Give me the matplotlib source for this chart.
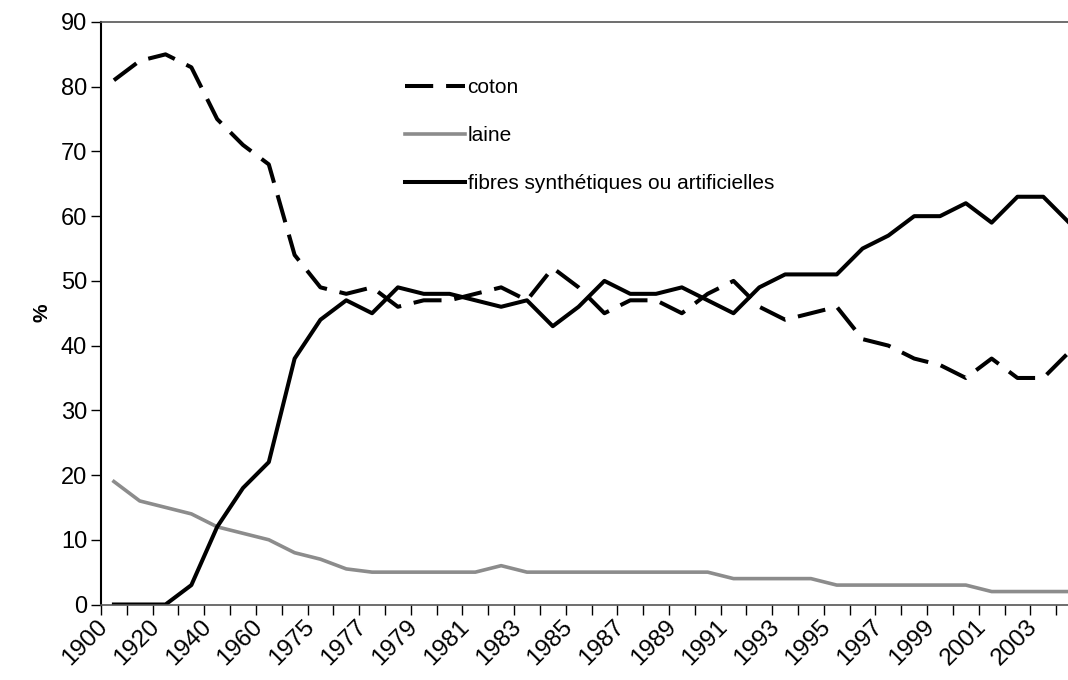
import numpy as np
import matplotlib
matplotlib.use('Agg')
import matplotlib.pyplot as plt
import matplotlib.transforms as mtransforms

plt.rcParams['font.family'] = ['Liberation Sans', 'DejaVu Sans']

# categories (x axis)
years = ['1900', '1910', '1920', '1930', '1940', '1950', '1960', '1970',
         '1975', '1976', '1977', '1978', '1979', '1980', '1981', '1982',
         '1983', '1984', '1985', '1986', '1987', '1988', '1989', '1990',
         '1991', '1992', '1993', '1994', '1995', '1996', '1997', '1998',
         '1999', '2000', '2001', '2002', '2003', '2004']

# series values (%)
coton = [81, 84, 85, 83, 75, 71, 68, 54,
         49, 48, 49, 46, 47, 47, 48, 49,
         47, 52, 49, 45, 47, 47, 45, 48,
         50, 46, 44, 45, 46, 41, 40, 38,
         37, 35, 38, 35, 35, 39]
laine = [19, 16, 15, 14, 12, 11, 10, 8,
         7, 5.5, 5, 5, 5, 5, 5, 6,
         5, 5, 5, 5, 5, 5, 5, 5,
         4, 4, 4, 4, 3, 3, 3, 3,
         3, 3, 2, 2, 2, 2]
fibres = [0, 0, 0, 3, 12, 18, 22, 38,
          44, 47, 45, 49, 48, 48, 47, 46,
          47, 43, 46, 50, 48, 48, 49, 47,
          45, 49, 51, 51, 51, 55, 57, 60,
          60, 62, 59, 63, 63, 59]

labels = ['coton', 'laine', 'fibres synthétiques ou artificielles']

W, H = 1068, 680
fig = plt.figure(figsize=(W / 100, H / 100), dpi=100)
# plot area runs past the right edge of the picture (chart was cropped)
left, right, top, bottom = 101, 1082, 22, 604.5
ax = fig.add_axes([left / W, 1 - bottom / H, (right - left) / W, (bottom - top) / H])

x = np.arange(len(years))
ax.plot(x, coton, color='black', lw=2.9, linestyle=(0, (7, 3.2)),
        dash_capstyle='butt', label=labels[0])
ax.plot(x, laine, color='#8c8c8c', lw=2.6, label=labels[1])
ax.plot(x, fibres, color='black', lw=2.9, label=labels[2])

ax.set_xlim(-0.5, len(years) - 0.5)
ax.set_ylim(0, 90)
ax.set_yticks(np.arange(0, 91, 10))

# ticks between categories, labels on every other category
ax.set_xticks(np.arange(-0.5, len(years), 1), minor=True)
ax.set_xticks(x[::2])
ax.set_xticklabels(years[::2], rotation=45, ha='right', va='top',
                   rotation_mode='anchor')
ax.tick_params(axis='x', which='major', length=0, pad=8, labelsize=17.5)
ax.tick_params(axis='x', which='minor', length=7, width=1, color='black')
ax.tick_params(axis='y', length=7, width=1, labelsize=17, pad=3)

# shift the slanted labels left, like the original
shift = mtransforms.ScaledTranslation(-0.17, 0, fig.dpi_scale_trans)
for lab in ax.get_xticklabels():
    lab.set_transform(lab.get_transform() + shift)

ax.set_ylabel('%', fontsize=15, fontweight='bold', labelpad=7)

for s in ['top', 'bottom']:
    ax.spines[s].set_color('#555555')
    ax.spines[s].set_linewidth(1.2)
ax.spines['left'].set_color('black')
ax.spines['left'].set_linewidth(1.5)
ax.spines['right'].set_visible(False)

ax.legend(loc='upper left', bbox_to_anchor=(405 / W, 1 - 78 / H),
          bbox_transform=fig.transFigure, frameon=False, fontsize=15,
          handlelength=2.9, handletextpad=0.1, labelspacing=1.4,
          borderpad=0, borderaxespad=0)

fig.savefig('out.png', dpi=100)
